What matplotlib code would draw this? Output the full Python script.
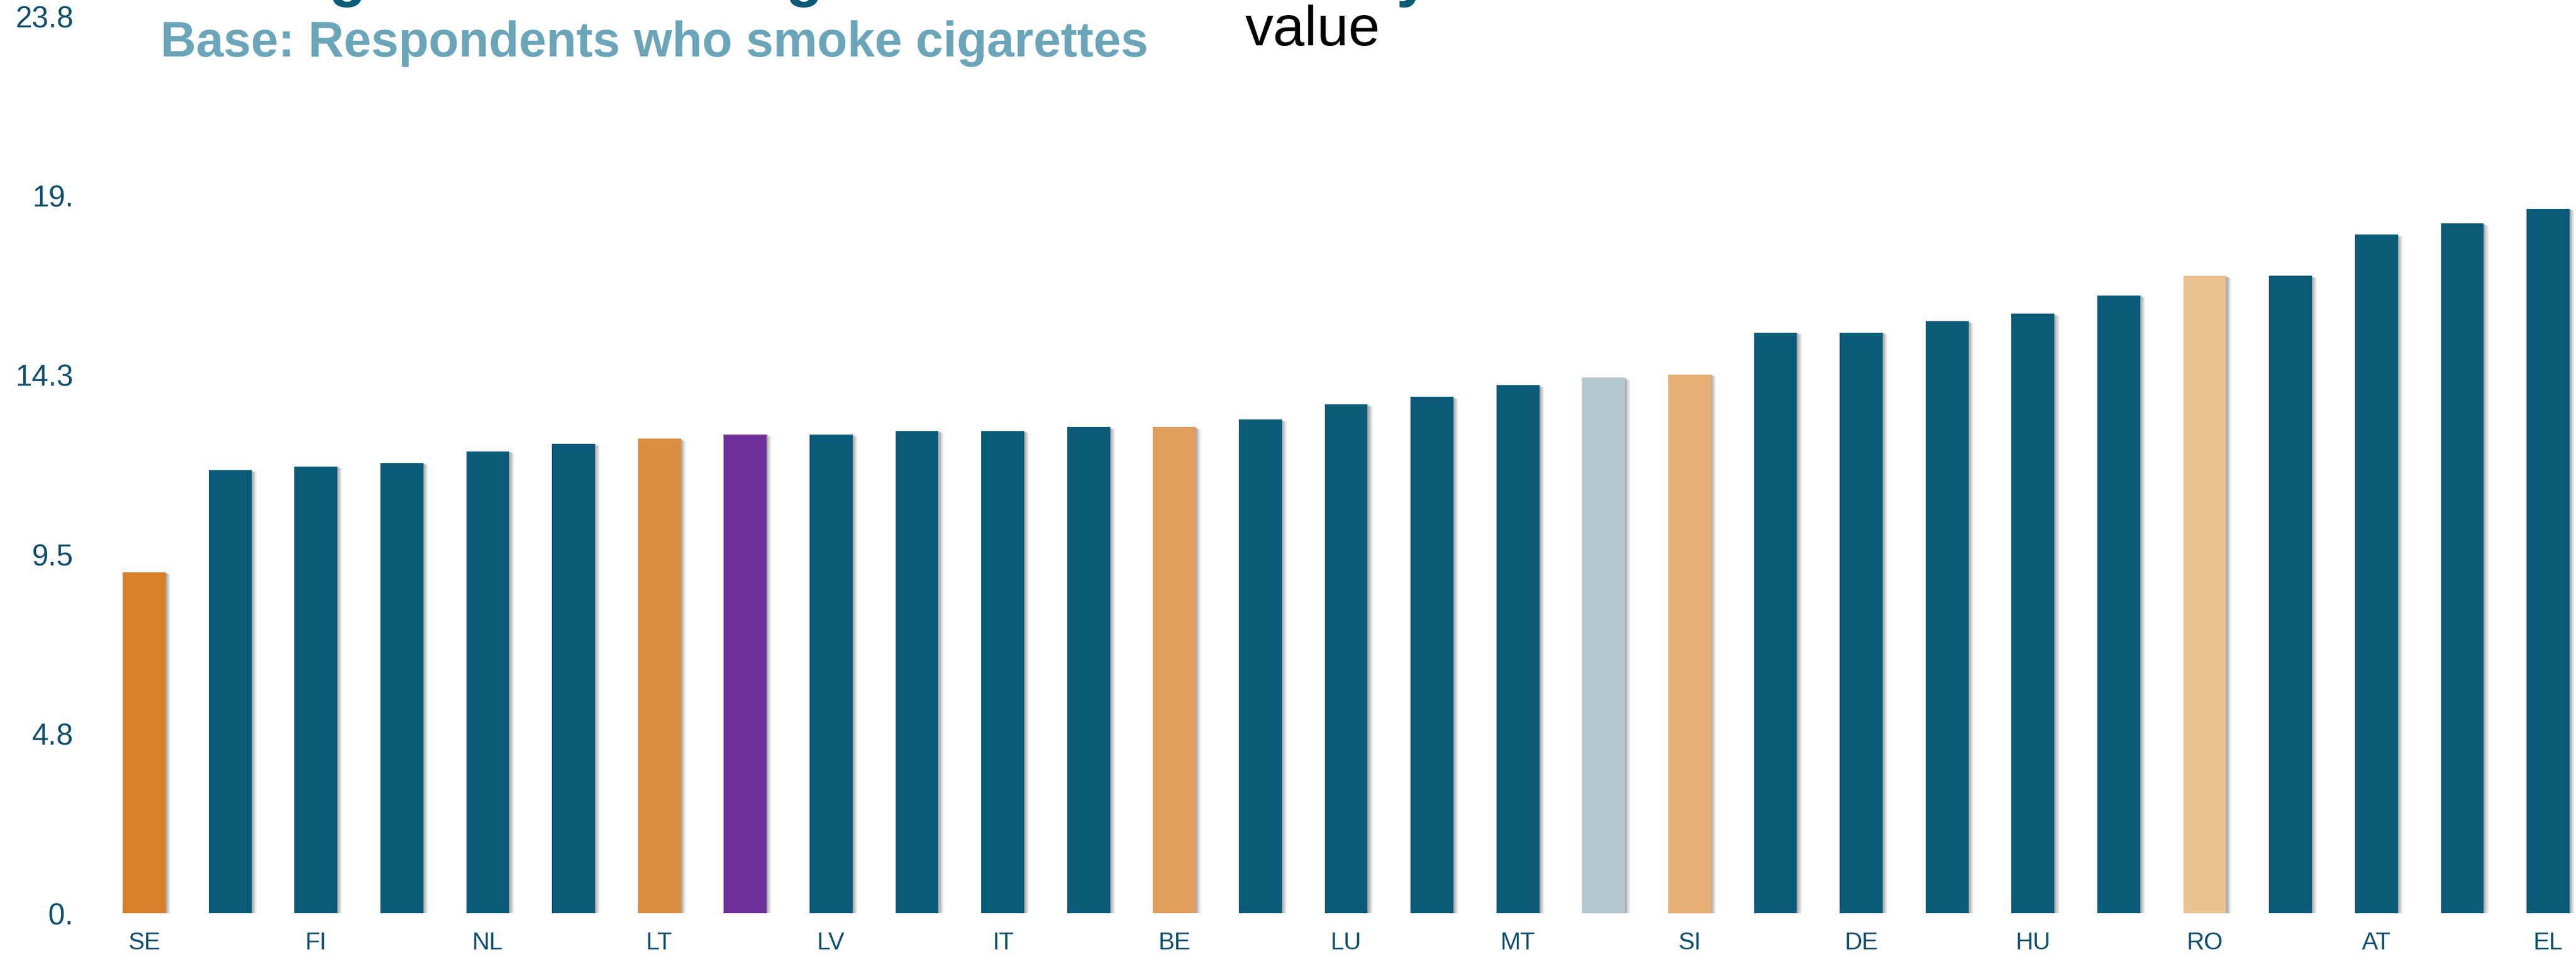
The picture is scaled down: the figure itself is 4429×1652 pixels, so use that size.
import matplotlib
matplotlib.use("Agg")
import matplotlib.pyplot as plt
import matplotlib.patheffects as pe

# country codes, sorted by value (only every second one gets a label)
countries = ['SE', 'DK', 'FI', 'UK', 'NL', 'EE', 'LT', 'IE', 'LV', 'FR',
             'IT', 'ES', 'BE', 'PT', 'LU', 'CZ', 'MT', 'EU28', 'SI', 'HR',
             'DE', 'PL', 'HU', 'SK', 'RO', 'BG', 'AT', 'CY', 'EL']
cigs_per_day = [9.05, 11.76, 11.86, 11.95, 12.26, 12.46, 12.59, 12.71, 12.71, 12.80,
                12.80, 12.90, 12.90, 13.10, 13.50, 13.70, 14.01, 14.21, 14.30, 15.41,
                15.41, 15.71, 15.91, 16.40, 16.91, 16.91, 18.01, 18.30, 18.70]

teal = '#0A5A78'
highlight = {'SE': '#D6802A', 'LT': '#DA8E40', 'IE': '#70309C', 'BE': '#E09D5C',
             'EU28': '#B3C7CF', 'SI': '#E6B074', 'RO': '#EAC291'}
bar_colors = [highlight.get(c, teal) for c in countries]

ytick_vals = [0, 4.76, 9.52, 14.28, 19.04, 23.8]
ytick_txt = ['0.', '4.8', '9.5', '14.3', '19.', '23.8']

plt.rcParams['font.family'] = ['Liberation Sans', 'DejaVu Sans']

fig = plt.figure(figsize=(44.29, 16.52), dpi=100)
ax = fig.add_axes([0.0316, 0.0496, 0.9684, 0.9334])

x = list(range(len(countries)))
# soft drop shadow built from a few stacked offsets
shadow = [pe.SimplePatchShadow(offset=(d, -d * 0.4), shadow_rgbFace='0.45', alpha=a)
          for d, a in [(6, 0.12), (4.5, 0.17), (3, 0.22), (1.5, 0.28)]]
bars = ax.bar(x, cigs_per_day, width=0.5, color=bar_colors, zorder=3)
for b in bars:
    b.set_path_effects(shadow + [pe.Normal()])

ax.set_xlim(-0.732, 28.325)
ax.set_ylim(0, 23.8)
ax.set_xticks(x[::2])
ax.set_xticklabels(countries[::2])
ax.set_yticks(ytick_vals)
ax.set_yticklabels(ytick_txt)
ax.tick_params(axis='x', length=0, pad=22, labelsize=30, labelcolor='#0E4F6B')
ax.tick_params(axis='y', length=0, pad=10, labelsize=37, labelcolor='#0E4F6B')
for s in ax.spines.values():
    s.set_visible(False)

# heading lines at the top (the first one runs off the page)
H = 1652.0
W = 4429.0
fig.text(276 / W, 1 + 9 / H, 'Average number of cigarettes smoked daily',
         fontsize=76, fontweight='bold', color=teal, va='baseline', ha='left')
fig.text(276 / W, 1 - 97 / H, 'Base: Respondents who smoke cigarettes',
         fontsize=61, fontweight='bold', color='#6BA5B9', va='baseline', ha='left')
fig.text(2141 / W, 1 - 78 / H, 'value', fontsize=70, color='black',
         va='baseline', ha='left')

fig.savefig('out.png', dpi=100, facecolor='white')
